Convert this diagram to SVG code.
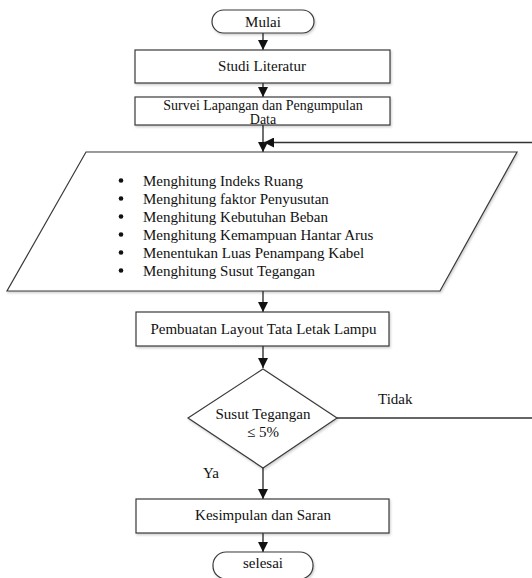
<svg xmlns="http://www.w3.org/2000/svg" width="532" height="578" viewBox="0 0 532 578">
<style>
.box{fill:#fff;stroke:#3a3a3a;stroke-width:1.2;filter:url(#sh)}
.ln{fill:none;stroke:#333;stroke-width:1.4}
.t{font-family:"Liberation Serif","Times New Roman",serif;font-size:15px;fill:#111}
.c{text-anchor:middle}
.s{font-size:14px}
</style>
<defs>
<filter id="sh" x="-5%" y="-10%" width="110%" height="130%">
<feDropShadow dx="1" dy="1.5" stdDeviation="0.8" flood-color="#000" flood-opacity="0.2"/>
</filter>
<marker id="ar" viewBox="0 0 10 10" refX="10" refY="5" markerWidth="10" markerHeight="10" markerUnits="userSpaceOnUse" orient="auto">
<path d="M0,0 L10,5 L0,10 Z" fill="#111"/>
</marker>
</defs>
<rect width="532" height="578" fill="#fff"/>
<g id="connectors">
<line class="ln" x1="263" y1="33" x2="263" y2="50" marker-end="url(#ar)"/>
<line class="ln" x1="263" y1="83" x2="263" y2="97" marker-end="url(#ar)"/>
<line class="ln" x1="263" y1="125" x2="263" y2="152" marker-end="url(#ar)"/>
<line class="ln" x1="532" y1="142.5" x2="264" y2="142.5" marker-end="url(#ar)"/>
<line class="ln" x1="263" y1="291" x2="263" y2="312" marker-end="url(#ar)"/>
<line class="ln" x1="263" y1="346" x2="263" y2="368" marker-end="url(#ar)"/>
<line class="ln" x1="337" y1="418" x2="532" y2="418"/>
<line class="ln" x1="263" y1="468" x2="263" y2="499" marker-end="url(#ar)"/>
<line class="ln" x1="263" y1="533" x2="263" y2="552" marker-end="url(#ar)"/>
<text class="t" x="378" y="404">Tidak</text>
<text class="t" x="203" y="478">Ya</text>
</g>
<g id="mulai">
<rect class="box" x="212" y="10" width="102" height="23" rx="11.5"/>
<text class="t c" x="263" y="27">Mulai</text>
</g>
<g id="studi">
<rect class="box" x="135" y="50" width="255" height="33"/>
<text class="t c" x="262" y="71">Studi Literatur</text>
</g>
<g id="survei">
<rect class="box" x="135" y="97" width="255" height="28"/>
<text class="t c s" x="263" y="109.5">Survei Lapangan dan Pengumpulan</text>
<text class="t c s" x="263" y="123.5">Data</text>
</g>
<g id="hitung">
<polygon class="box" points="86,152 517,152 440,291 7,291"/>
<g fill="#111">
<circle cx="121" cy="180.5" r="2.3"/>
<circle cx="121" cy="198.5" r="2.3"/>
<circle cx="121" cy="216.5" r="2.3"/>
<circle cx="121" cy="234.5" r="2.3"/>
<circle cx="121" cy="252.5" r="2.3"/>
<circle cx="121" cy="270.5" r="2.3"/>
</g>
<text class="t" x="143" y="185.5">Menghitung Indeks Ruang</text>
<text class="t" x="143" y="203.5">Menghitung faktor Penyusutan</text>
<text class="t" x="143" y="221.5">Menghitung Kebutuhan Beban</text>
<text class="t" x="143" y="239.5">Menghitung Kemampuan Hantar Arus</text>
<text class="t" x="143" y="257.5">Menentukan Luas Penampang Kabel</text>
<text class="t" x="143" y="275.5">Menghitung Susut Tegangan</text>
</g>
<g id="layout">
<rect class="box" x="136" y="312" width="253" height="34"/>
<text class="t c" x="263.5" y="334">Pembuatan Layout Tata Letak Lampu</text>
</g>
<g id="susut">
<polygon class="box" points="263,369 337,418 263,468 188,418"/>
<text class="t c" x="263" y="419">Susut Tegangan</text>
<text class="t c" x="263" y="437">≤ 5%</text>
</g>
<g id="kesimpulan">
<rect class="box" x="136" y="499" width="253" height="34"/>
<text class="t c" x="263" y="520">Kesimpulan dan Saran</text>
</g>
<g id="selesai">
<rect class="box" x="213" y="552" width="100" height="27" rx="13"/>
<text class="t c" x="263" y="568">selesai</text>
</g>
</svg>
